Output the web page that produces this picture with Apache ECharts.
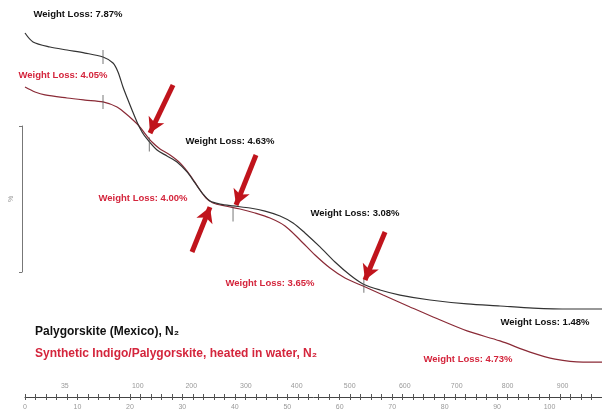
<!DOCTYPE html>
<html><head><meta charset="utf-8">
<script src="https://cdn.jsdelivr.net/npm/echarts@6/dist/echarts.min.js"></script>
<style>html,body{margin:0;padding:0;background:#fff}#c{width:602px;height:411px}</style>
</head><body><div id="c"></div>
<script>
// time (min) and weight (%)
const blackTime = [0,1.53,4.77,8.0,11.44,14.87,16.78,17.73,18.68,19.64,20.40,21.35,22.31,23.26,25.17,27.07,28.98,30.89,32.41,33.94,35.27,37.18,39.66,42.90,45.76,48.62,51.10,53.38,56.24,59.10,61.96,64.44,67.68,71.50,77.22,84.27,90.56,96.85,103.91,110];
const blackWeight = [99.92,99.36,99.04,98.85,98.66,98.41,98.03,97.47,96.52,95.70,95.07,94.32,93.69,93.25,92.55,92.18,91.80,91.17,90.48,89.78,89.34,89.15,89.03,88.90,88.71,88.40,87.96,87.33,86.45,85.50,84.68,84.12,83.74,83.42,83.11,82.86,82.73,82.60,82.54,82.54];
const redTime = [0,1.91,3.81,8.01,11.44,14.87,17.54,19.07,20.59,21.93,23.07,24.21,25.74,27.65,29.55,31.46,32.98,34.51,35.84,38.13,40.99,43.85,46.71,49.57,52.43,55.29,58.15,61.01,64.44,68.26,73.40,77.79,84.27,90.56,96.28,101.05,106.39,110];
const redWeight = [96.52,96.21,96.02,95.83,95.70,95.58,95.26,94.88,94.44,94.00,93.50,93.06,92.62,92.24,91.74,90.98,90.22,89.53,89.22,89.03,88.84,88.59,88.27,87.77,86.89,85.94,85.12,84.49,83.99,83.42,82.67,82.04,81.16,80.53,79.83,79.39,79.20,79.20];

const timeTicks = [0,10,20,30,40,50,60,70,80,90,100];
const tempLabels = ['35','100','200','300','400','500','600','700','800','900'];
const tempLabelTimes = [7.6,21.5,31.7,42.1,51.8,61.9,72.4,82.3,92.0,102.5];

const blackLossText = ['Weight Loss: 7.87%','Weight Loss: 4.63%','Weight Loss: 3.08%','Weight Loss: 1.48%'];
const blackLossAt = [[10.1,101.12],[39.08,93.12],[62.92,88.59],[99.14,81.72]];
const redLossText = ['Weight Loss: 4.05%','Weight Loss: 4.00%','Weight Loss: 3.65%','Weight Loss: 4.73%'];
const redLossAt = [[7.24,97.28],[22.5,89.53],[46.71,84.18],[84.46,79.39]];

const arrowFrom = [[28.22,96.65],[31.84,86.13],[44.04,92.24],[68.64,87.39]];
const arrowTo = [[23.83,93.62],[35.27,88.96],[40.23,89.09],[64.82,84.37]];

const stepMarkTime = [14.87,14.87,23.7,39.66,64.6];
const stepMarkWeight = [98.41,95.58,92.9,88.5,84.0];

const nameBlack = 'Palygorskite (Mexico), N\u2082';
const nameRed = 'Synthetic Indigo/Palygorskite, heated in water, N\u2082';

const zip = (a,b)=>a.map((v,i)=>[v,b[i]]);
const FONT = '"Liberation Sans", Arial, sans-serif';

const chart = echarts.init(document.getElementById('c'));
chart.setOption({
  backgroundColor:'#fff',
  animation:false,
  textStyle:{fontFamily:FONT},
  grid:[
    {left:25,right:0,top:0,bottom:14},
    {left:22,width:1,top:126,height:146}
  ],
  legend:{
    orient:'vertical', left:25, top:320, itemGap:10,
    icon:'none', itemWidth:0, itemHeight:13,
    data:[
      {name:nameBlack, textStyle:{color:'#111',fontWeight:'bold',fontSize:12}},
      {name:nameRed, textStyle:{color:'#d4253c',fontWeight:'bold',fontSize:12}}
    ],
    selectedMode:false
  },
  xAxis:[
    {type:'value',gridIndex:0,min:0,max:110,interval:10,position:'bottom',
     axisLine:{lineStyle:{color:'#444',width:1}},
     axisTick:{length:3,lineStyle:{color:'#555'}},
     minorTick:{show:true,splitNumber:5,length:3,lineStyle:{color:'#555'}},
     splitLine:{show:false},
     axisLabel:{color:'#999',fontSize:7,margin:7,customValues:timeTicks,formatter:v=>String(v)}},
    {type:'value',gridIndex:0,min:0,max:110,interval:2,position:'bottom',
     axisLine:{show:false},
     axisTick:{inside:true,length:3,lineStyle:{color:'#555'}},
     splitLine:{show:false},
     axisLabel:{inside:true,color:'#999',fontSize:7,margin:7,customValues:tempLabelTimes,
       formatter:v=>{const i=tempLabelTimes.indexOf(v);return i>=0?tempLabels[i]:'';}}},
    {type:'value',gridIndex:1,show:false,min:0,max:1}
  ],
  yAxis:[
    {type:'value',gridIndex:0,min:77,max:102,show:false},
    {type:'value',gridIndex:1,min:0,max:10,interval:10,
     name:'%',nameLocation:'middle',nameGap:7,nameRotate:90,
     nameTextStyle:{color:'#999',fontSize:7},
     axisLine:{show:true,lineStyle:{color:'#777'}},
     axisTick:{show:true,length:3,lineStyle:{color:'#777'}},
     axisLabel:{show:false},splitLine:{show:false}}
  ],
  series:[
    {name:nameBlack,type:'line',xAxisIndex:0,yAxisIndex:0,data:zip(blackTime,blackWeight),
     smooth:0.3,symbol:'none',lineStyle:{color:'#333',width:1.2},itemStyle:{color:'#333'},z:3,
     markPoint:{symbol:'circle',symbolSize:0,silent:true,
       label:{show:true,position:'inside',color:'#111',fontWeight:'bold',fontSize:9.5,fontFamily:FONT,formatter:p=>p.name},
       data:blackLossText.map((t,i)=>({name:t,coord:blackLossAt[i]}))}},
    {name:nameRed,type:'line',xAxisIndex:0,yAxisIndex:0,data:zip(redTime,redWeight),
     smooth:0.3,symbol:'none',lineStyle:{color:'#8a2a36',width:1.2},itemStyle:{color:'#8a2a36'},z:2,
     markPoint:{symbol:'circle',symbolSize:0,silent:true,
       label:{show:true,position:'inside',color:'#d4253c',fontWeight:'bold',fontSize:9.5,fontFamily:FONT,formatter:p=>p.name},
       data:redLossText.map((t,i)=>({name:t,coord:redLossAt[i]}))},
     markLine:{silent:true,symbol:['none','arrow'],symbolSize:[13,15],
       lineStyle:{color:'#c0141c',width:5,type:'solid'},label:{show:false},
       data:arrowFrom.map((f,i)=>[{coord:f},{coord:arrowTo[i]}])}},
    {name:'steps',type:'scatter',xAxisIndex:0,yAxisIndex:0,data:zip(stepMarkTime,stepMarkWeight),
     symbol:'rect',symbolSize:[1,14],itemStyle:{color:'#555'},z:4,silent:true}
  ]
});
</script></body></html>
